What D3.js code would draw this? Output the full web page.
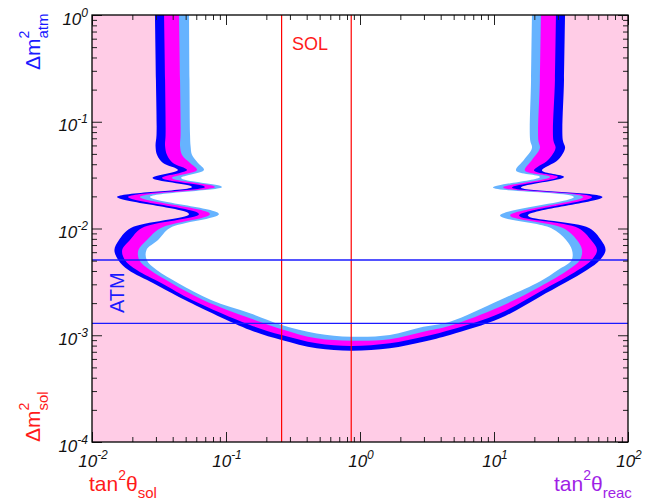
<!DOCTYPE html>
<html><head><meta charset="utf-8">
<script src="https://cdn.jsdelivr.net/npm/d3@7/dist/d3.min.js"></script>
<style>body{margin:0;background:#fff;} svg{display:block;font-family:"Liberation Sans",Arial,Helvetica,sans-serif;}</style>
</head><body><svg id="c" width="645" height="503"></svg>
<script>
// ---------------- data ----------------
const xDomain = [0.01, 100];          // tan^2 theta
const yDomain = [1e-4, 1];            // Delta m^2
const xMajorTicks = [0.01, 0.1, 1, 10, 100];
const xTickExponents = ["-2", "-1", "0", "1", "2"];
const yMajorTicks = [1e-4, 1e-3, 1e-2, 1e-1, 1];
const yTickExponents = ["-4", "-3", "-2", "-1", "0"];

// reference lines
const solBand = [0.26, 0.86];       // tan^2 theta_sol
const atmBand = [1.29e-3, 5.07e-3]; // Delta m^2_atm

// Left arm of contours: rows of Delta m^2 (top -> bottom), tan^2 theta of each boundary
const leftDm2      = [1.0, 0.246, 0.0751, 0.0593, 0.0488, 0.0411, 0.0353, 0.0297, 0.0245, 0.0197, 0.01367, 0.01011, 0.0078, 0.00629, 0.00507, 0.00408, 0.00307, 0.00214];
const leftBlue     = [0.0295, 0.0300, 0.0303, 0.0298, 0.0306, 0.0339, 0.0438, 0.0283, 0.0558, 0.0154, 0.0530, 0.0195, 0.0159, 0.0147, 0.0157, 0.0187, 0.0287, 0.0494];
const leftMagenta  = [0.0345, 0.0351, 0.0354, 0.0351, 0.0363, 0.0402, 0.0512, 0.0333, 0.0697, 0.0186, 0.0629, 0.0236, 0.0192, 0.0168, 0.0176, 0.0216, 0.0331, 0.0558];
const leftLight    = [0.0446, 0.0454, 0.0458, 0.0454, 0.0470, 0.0539, 0.0608, 0.0395, 0.0828, 0.0228, 0.0760, 0.0327, 0.0257, 0.0222, 0.0225, 0.0271, 0.0393, 0.0674];
const leftWhite    = [0.0530, 0.0534, 0.0539, 0.0544, 0.0558, 0.0618, 0.0685, 0.0462, 0.0934, 0.0271, 0.0887, 0.0382, 0.0311, 0.0255, 0.0256, 0.0304, 0.0441, 0.0773];

// Bottom of contours: columns of tan^2 theta (left -> right), Delta m^2 of each boundary
const bottomTan2    = [0.151, 0.260, 0.475, 0.861, 1.67, 2.97, 4.69, 11.1, 22.0];
const bottomBlue    = [1.12e-3, 9.03e-4, 7.55e-4, 7.17e-4, 7.55e-4, 8.70e-4, 1.005e-3, 1.44e-3, 2.30e-3];
const bottomMagenta = [1.25e-3, 1.005e-3, 8.41e-4, 7.93e-4, 8.41e-4, 9.69e-4, 1.12e-3, 1.61e-3, 2.56e-3];
const bottomLight   = [1.44e-3, 1.14e-3, 9.36e-4, 8.89e-4, 9.17e-4, 1.08e-3, 1.23e-3, 1.85e-3, 2.85e-3];
const bottomWhite   = [1.61e-3, 1.25e-3, 1.04e-3, 9.69e-4, 1.005e-3, 1.20e-3, 1.34e-3, 2.14e-3, 3.18e-3];

// Right arm of contours: rows of Delta m^2 (bottom -> top), tan^2 theta of each boundary
const rightDm2     = [0.00408, 0.00507, 0.00629, 0.0078, 0.01011, 0.01323, 0.0197, 0.0242, 0.0304, 0.0349, 0.0438, 0.0568, 0.0675, 0.246, 1.0];
const rightBlue    = [49.4, 61.8, 68.0, 62.9, 51.2, 17.9, 64.5, 15.9, 33.3, 22.8, 30.0, 33.9, 32.6, 33.3, 33.9];
const rightMagenta = [42.4, 53.6, 58.7, 53.0, 42.4, 15.4, 53.9, 13.6, 30.0, 19.9, 25.3, 28.8, 27.7, 28.5, 29.0];
const rightLight   = [35.7, 43.8, 45.4, 41.6, 32.7, 13.2, 46.2, 11.7, 26.2, 17.0, 19.2, 22.0, 21.4, 22.0, 22.4];
const rightWhite   = [30.0, 38.0, 38.2, 34.5, 26.6, 11.1, 39.5, 9.83, 22.0, 14.6, 16.7, 19.2, 18.6, 18.9, 19.2];

// ---------------- drawing ----------------
const svg = d3.select("#c");
const L = 92, R = 628, T = 15, B = 442;
const x = d3.scaleLog().domain(xDomain).range([L, R]);
const y = d3.scaleLog().domain(yDomain).range([B, T]);

svg.append("defs").append("clipPath").attr("id","plot")
  .append("rect").attr("x",L).attr("y",T).attr("width",R-L).attr("height",B-T);

const plot = svg.append("g").attr("clip-path","url(#plot)");
plot.append("rect").attr("x",L).attr("y",T).attr("width",R-L).attr("height",B-T).attr("fill","#ffcce6");

function contourPoints(left, bottom, right){
  const pts = [];
  leftDm2.forEach((d,i)=>pts.push([left[i], d]));
  bottomTan2.forEach((t,i)=>pts.push([t, bottom[i]]));
  rightDm2.forEach((d,i)=>pts.push([right[i], d]));
  return pts;
}
const line = d3.line().x(p=>x(p[0])).y(p=>y(p[1])).curve(d3.curveCatmullRom.alpha(0.5));
const layers = [
  {pts: contourPoints(leftBlue, bottomBlue, rightBlue), color:"#0000ff"},
  {pts: contourPoints(leftMagenta, bottomMagenta, rightMagenta), color:"#ff00ff"},
  {pts: contourPoints(leftLight, bottomLight, rightLight), color:"#66b3ff"},
  {pts: contourPoints(leftWhite, bottomWhite, rightWhite), color:"#ffffff"}
];
layers.forEach(l=>{
  plot.append("path").attr("d", line(l.pts)+"Z").attr("fill", l.color).attr("stroke","none");
});

// reference lines
solBand.forEach(v=>{
  plot.append("line").attr("x1",x(v)).attr("x2",x(v)).attr("y1",T).attr("y2",B)
    .attr("stroke","#ff0000").attr("stroke-width",1.2);
});
atmBand.forEach(v=>{
  plot.append("line").attr("x1",L).attr("x2",R).attr("y1",y(v)).attr("y2",y(v))
    .attr("stroke","#1a1aff").attr("stroke-width",1.3);
});

// ticks (all four sides, inside)
function minorTicks(lo, hi){
  const out = [];
  for(let e=Math.log10(lo); e<Math.log10(hi)-1e-9; e++){
    for(let m=2;m<=9;m++) out.push(m*Math.pow(10,e));
  }
  return out;
}
const xMinor = minorTicks(xDomain[0], xDomain[1]);
const yMinor = minorTicks(yDomain[0], yDomain[1]);
const tickColor = "#222";
function addAxis(axis, tx, ty){
  const g = svg.append("g").attr("transform",`translate(${tx},${ty})`).call(axis);
  g.select(".domain").remove();
  g.selectAll("line").attr("stroke",tickColor).attr("stroke-width",1);
  g.selectAll("text").remove();
}
addAxis(d3.axisBottom(x).tickValues(xMinor).tickSize(-5), 0, B);
addAxis(d3.axisBottom(x).tickValues(xMajorTicks).tickSize(-10), 0, B);
addAxis(d3.axisTop(x).tickValues(xMinor).tickSize(-5), 0, T);
addAxis(d3.axisTop(x).tickValues(xMajorTicks).tickSize(-10), 0, T);
addAxis(d3.axisLeft(y).tickValues(yMinor).tickSize(-5), L, 0);
addAxis(d3.axisLeft(y).tickValues(yMajorTicks).tickSize(-10), L, 0);
addAxis(d3.axisRight(y).tickValues(yMinor).tickSize(-5), R, 0);
addAxis(d3.axisRight(y).tickValues(yMajorTicks).tickSize(-10), R, 0);

// frame
svg.append("rect").attr("x",L).attr("y",T).attr("width",R-L).attr("height",B-T)
  .attr("fill","none").attr("stroke","#000").attr("stroke-width",1.3);

// rich text helper: parts {t, fs, dy, overlap}
function rich(parent, parts, color, italic){
  const g = parent.append("g");
  let cx = 0, prevStart = 0;
  parts.forEach(p=>{
    const start = p.overlap ? prevStart : cx;
    const t = g.append("text").attr("x",start).attr("y",p.dy||0)
      .attr("font-size",p.fs).attr("fill",color).text(p.t);
    if(italic) t.attr("font-style","italic");
    const w = t.node().getComputedTextLength();
    cx = Math.max(cx, start + w);
    prevStart = start;
  });
  return {g, width: cx};
}

// tick labels
xMajorTicks.forEach((v,i)=>{
  const r = rich(svg, [{t:"10", fs:17},{t:xTickExponents[i], fs:12, dy:-8}], "#111", true);
  r.g.attr("transform",`translate(${x(v) - r.width/2 + 1},467)`);
});
yMajorTicks.forEach((v,i)=>{
  const r = rich(svg, [{t:"10", fs:17},{t:yTickExponents[i], fs:12, dy:-8}], "#111", true);
  r.g.attr("transform",`translate(${88 - r.width},${y(v) + 9.5})`);
});

// axis titles
const tSol = rich(svg, [{t:"tan", fs:21},{t:"2", fs:14, dy:-11},{t:"θ", fs:21},{t:"sol", fs:15, dy:7}], "#ff1a1a", false);
tSol.g.attr("transform","translate(89,491)");
const tReac = rich(svg, [{t:"tan", fs:21},{t:"2", fs:14, dy:-11},{t:"θ", fs:21},{t:"reac", fs:15, dy:7}], "#a01ee6", false);
tReac.g.attr("transform","translate(554,491)");
const dAtm = rich(svg, [{t:"Δm", fs:21},{t:"2", fs:14, dy:-11},{t:"atm", fs:15, dy:8, overlap:true}], "#1a1aff", false);
dAtm.g.attr("transform","translate(39.5,70) rotate(-90)");
const dSol = rich(svg, [{t:"Δm", fs:21},{t:"2", fs:14, dy:-11},{t:"sol", fs:15, dy:8, overlap:true}], "#ff1a1a", false);
dSol.g.attr("transform","translate(40,442) rotate(-90)");

// band labels
svg.append("text").attr("x",292).attr("y",50).attr("font-size",18).attr("fill","#ff1a1a").text("SOL");
svg.append("text").attr("transform","translate(123.5,313) rotate(-90)").attr("font-size",20).attr("fill","#1a1aff").text("ATM");
</script></body></html>
